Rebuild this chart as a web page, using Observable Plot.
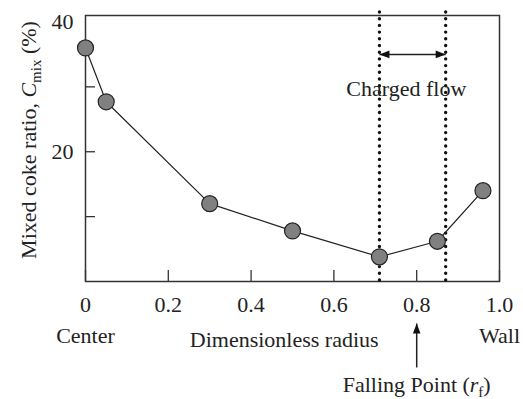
<!DOCTYPE html>
<html>
<head>
<meta charset="utf-8">
<script src="https://cdn.jsdelivr.net/npm/d3@7"></script>
<script src="https://cdn.jsdelivr.net/npm/@observablehq/plot@0.6"></script>
<style>
  html, body { margin: 0; padding: 0; background: #fff; }
  #chart svg { display: block; }
</style>
</head>
<body>
<div id="chart"></div>
<script>
// ---- data ----
const radius = [0, 0.05, 0.30, 0.50, 0.71, 0.85, 0.96];      // dimensionless radius
const cmix   = [36.0, 27.7, 12.0, 7.8, 3.8, 6.2, 14.0];       // mixed coke ratio (%)

const xTicks      = [0, 0.2, 0.4, 0.6, 0.8, 1.0];
const xTickLabels = ["0", "0.2", "0.4", "0.6", "0.8", "1.0"];
const yTickMarks  = [10, 20, 30];
const yLabelTicks = [20, 40];
const yTickLabels = ["20", "40"];

const chargedFlow   = [0.71, 0.87];   // dotted boundaries of the charged flow
const chargedArrowY = [35.0];         // level of the double arrow
const chargedLabel  = [{x: 0.775, y: 29.75, text: "Charged flow"}];
const fallingPoint  = [0.8];
const fallingArrowY = [-13.25, -6.47]; // tail, tip (below the axis)
const endLabels     = [{x: 0, text: "Center"}, {x: 1, text: "Wall"}];
const xTitle        = [{x: 0.48, text: "Dimensionless radius"}];
const yTitle        = "Mixed coke ratio, Cmix (%)";
const fallingTitle  = "Falling Point (rf)";

const points = radius.map((r, i) => ({r, c: cmix[i]}));

const FONT = '"Liberation Serif", "Times New Roman", Times, serif';
const INK = "#222";

// filled arrow-head symbol: tip at (0,-2r), base at y=0
const head = {
  draw(ctx, size) {
    const r = Math.sqrt(size / Math.PI);
    ctx.moveTo(0, -2.1 * r);
    ctx.lineTo(0.8 * r, 0);
    ctx.lineTo(-0.8 * r, 0);
    ctx.closePath();
  }
};

const chart = Plot.plot({
  width: 523,
  height: 399,
  marginLeft: 85,
  marginRight: 24,
  marginTop: 15,
  marginBottom: 118,
  style: {fontFamily: FONT, fontSize: "22px", color: INK, background: "#fff", overflow: "visible"},
  x: {domain: [0, 1], label: null},
  y: {domain: [0, 41], label: null},
  marks: [
    // inward ticks
    Plot.axisX({ticks: xTicks, tickSize: -11, tickFormat: () => "", stroke: "#333", strokeWidth: 1.3, label: null}),
    Plot.axisY({ticks: yTickMarks, tickSize: -10, tickFormat: () => "", stroke: "#333", strokeWidth: 1.3, label: null}),
    // tick labels
    Plot.axisX({ticks: xTicks, tickSize: 0, tickPadding: 15, fontSize: 22,
      tickFormat: d => xTickLabels[xTicks.indexOf(d)], label: null}),
    Plot.axisY({ticks: yLabelTicks, tickSize: 0, tickPadding: 12, fontSize: 22,
      tickFormat: d => yTickLabels[yLabelTicks.indexOf(d)], label: null}),
    Plot.frame({stroke: "#333", strokeWidth: 1.5}),

    // charged-flow boundaries
    Plot.ruleX(chargedFlow, {stroke: "#111", strokeWidth: 3.4, strokeDasharray: "0 6.7",
      strokeLinecap: "round", insetTop: -3}),
    // double arrow
    Plot.link(chargedArrowY, {x1: () => chargedFlow[0], x2: () => chargedFlow[1],
      y1: d => d, y2: d => d, stroke: INK, strokeWidth: 1.5}),
    Plot.dot(chargedArrowY, {x: () => chargedFlow[0], y: d => d, symbol: head, r: 4.8,
      rotate: -90, dx: 10, fill: "#111", stroke: "none"}),
    Plot.dot(chargedArrowY, {x: () => chargedFlow[1], y: d => d, symbol: head, r: 4.8,
      rotate: 90, dx: -10, fill: "#111", stroke: "none"}),
    Plot.text(chargedLabel, {x: "x", y: "y", text: "text", fontSize: 22, fill: INK}),

    // data
    Plot.line(points, {x: "r", y: "c", stroke: INK, strokeWidth: 1.2}),
    Plot.dot(points, {x: "r", y: "c", r: 8, fill: "#808080", stroke: INK, strokeWidth: 1.2}),

    // labels below the axis
    Plot.text(endLabels, {x: "x", text: "text", frameAnchor: "bottom", lineAnchor: "middle",
      dy: 54, fontSize: 22, fill: INK}),
    Plot.text(xTitle, {x: "x", text: "text", frameAnchor: "bottom", lineAnchor: "middle",
      dy: 58, fontSize: 22, fill: INK}),

    // falling point arrow
    Plot.link(fallingPoint, {x1: d => d, x2: d => d, y1: () => fallingArrowY[0], y2: () => fallingArrowY[1],
      stroke: INK, strokeWidth: 1.5}),
    Plot.dot(fallingPoint, {x: d => d, y: () => fallingArrowY[1], symbol: head, r: 4.8,
      dy: 10, fill: "#111", stroke: "none"}),
    Plot.text(fallingPoint, {x: d => d, text: () => fallingTitle, frameAnchor: "bottom", lineAnchor: "middle",
      dy: 103, fontSize: 22, fill: INK}),

    // y title
    Plot.text([yTitle], {text: d => d, frameAnchor: "left", textAnchor: "middle", lineAnchor: "middle",
      rotate: -90, dx: -57, dy: -8.5, fontSize: 22, fill: INK})
  ]
});

// rich text: italic symbol with subscript
function richify(svg, plain, parts) {
  d3.select(svg).selectAll("text").each(function () {
    if (this.textContent !== plain) return;
    const t = d3.select(this);
    t.text(null);
    let shift = 0;
    for (const p of parts) {
      const s = t.append("tspan").text(p.t);
      if (p.italic) s.attr("font-style", "italic");
      if (p.sub) { s.attr("font-size", 15).attr("dy", 5 - shift); shift = 5; }
      else if (shift) { s.attr("dy", -shift); shift = 0; }
    }
  });
}
richify(chart, yTitle, [{t: "Mixed coke ratio, "}, {t: "C", italic: true}, {t: "mix", sub: true}, {t: " (%)"}]);
richify(chart, fallingTitle, [{t: "Falling Point ("}, {t: "r", italic: true}, {t: "f", sub: true}, {t: ")"}]);

document.getElementById("chart").append(chart);
</script>
</body>
</html>
